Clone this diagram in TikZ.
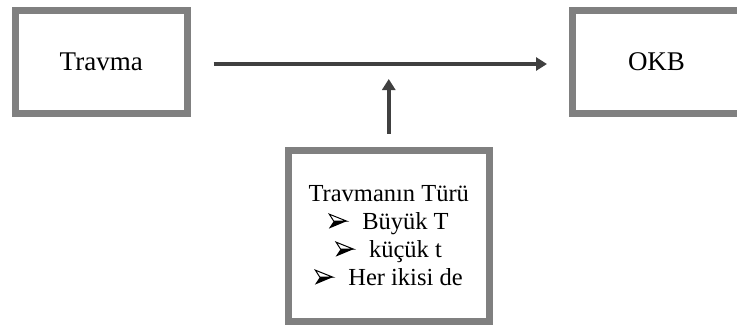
\documentclass[tikz,border=0pt]{standalone}
\usepackage{fontspec}
\setmainfont{Liberation Serif}
\usetikzlibrary{arrows.meta}
\definecolor{framegray}{HTML}{808080}
\definecolor{arrowgray}{HTML}{404040}
\newsavebox{\arrowbulletbox}
\newcommand{\itembullet}[1]{\raisebox{1pt}{\usebox{\arrowbulletbox}}\hspace{15pt}#1}
\tikzset{
  framebox/.style={draw=framegray, line width=7pt, fill=white, inner sep=0pt},
  flow/.style={draw=arrowgray, line width=4pt, -{Triangle[length=11pt,width=13pt]}},
}
\begin{document}
% three-dimensional arrowhead bullet: solid lower half, outlined upper half
\sbox{\arrowbulletbox}{\pgfpicture
  \pgfsetmiterjoin
  \pgfpathmoveto{\pgfpoint{5pt}{7.5pt}}%
  \pgfpathlineto{\pgfpoint{18pt}{7.5pt}}%
  \pgfpathlineto{\pgfpoint{0pt}{0pt}}%
  \pgfpathclose
  \pgfusepath{fill}%
  \pgfsetlinewidth{1pt}%
  \pgfpathmoveto{\pgfpoint{5pt}{7.5pt}}%
  \pgfpathlineto{\pgfpoint{18pt}{7.5pt}}%
  \pgfpathlineto{\pgfpoint{0.5pt}{14.5pt}}%
  \pgfpathclose
  \pgfusepath{stroke}%
\endpgfpicture}
\begin{tikzpicture}[x=1pt,y=-1pt]
  \useasboundingbox (0,0) rectangle (737,325);
  % top row boxes
  \node[framebox, minimum width=171.5pt, minimum height=103pt,
        font=\fontsize{27}{30}\selectfont] (travma) at (101.25,62) {Travma};
  \node[framebox, minimum width=168pt, minimum height=103pt,
        font=\fontsize{27}{30}\selectfont] (okb) at (656.5,62) {OKB};
  % moderator box
  \node[framebox, minimum width=200.5pt, minimum height=170.5pt,
        align=center, font=\fontsize{24.5}{28}\selectfont] (tur) at (388.75,235.75)
        {Travmanın Türü\\ \itembullet{Büyük T}\\ \itembullet{küçük t}\\ \itembullet{Her ikisi de}};
  \coordinate (mid) at (388.75,64);
  % connectors
  \draw[flow, shorten <=23pt, shorten >=22pt] ([yshift=-2pt]travma.east) -- ([yshift=-2pt]okb.west);
  \draw[flow, shorten <=13.5pt, shorten >=15pt] (tur.north) -- (mid);
\end{tikzpicture}
\end{document}
